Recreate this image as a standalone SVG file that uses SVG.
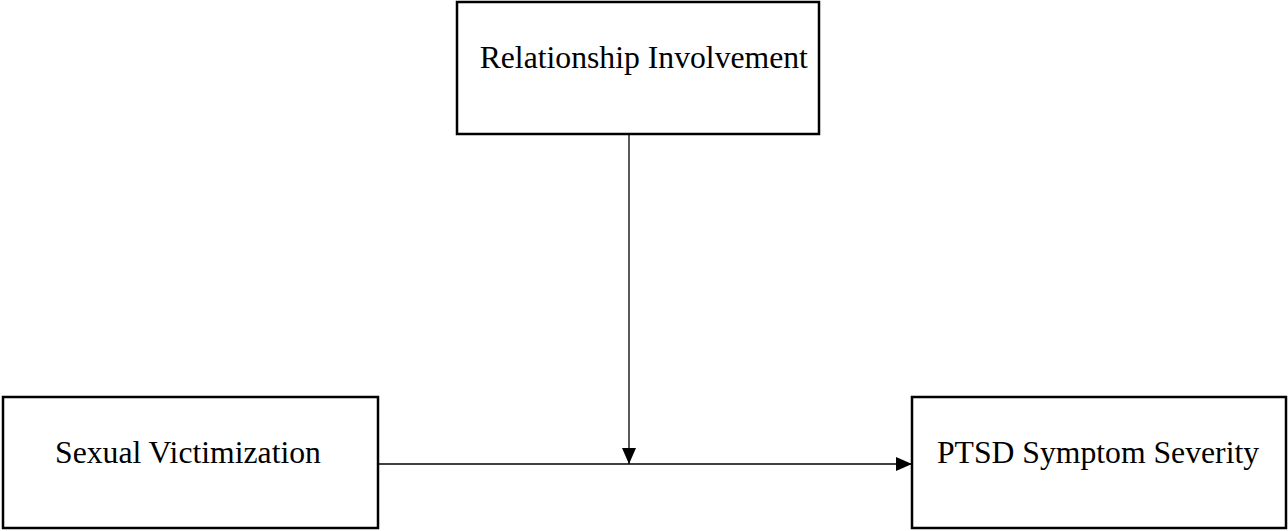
<svg xmlns="http://www.w3.org/2000/svg" width="1288" height="531" viewBox="0 0 1288 531">
<style>
.box{fill:#fff;stroke:#000;stroke-width:2.5}
.lbl{font-family:"Liberation Serif","Times New Roman",serif;font-size:31.7px;fill:#000;text-anchor:middle}
.conn{stroke:#000;stroke-width:1.3;fill:none}
</style>
<defs>
<marker id="arr" viewBox="0 0 16 14" refX="16" refY="7" markerWidth="16" markerHeight="14" markerUnits="userSpaceOnUse" orient="auto">
<path d="M0,0 L16,7 L0,14 Z" fill="#000"/>
</marker>
</defs>
<rect width="1288" height="531" fill="#fff"/>
<g id="connectors">
<line class="conn" x1="378" y1="464" x2="912" y2="464" marker-end="url(#arr)"/>
<line class="conn" x1="629" y1="134" x2="629" y2="464" marker-end="url(#arr)"/>
</g>
<g id="relationship">
<rect class="box" x="457" y="2" width="362" height="132"/>
<text class="lbl" x="643.8" y="68">Relationship Involvement</text>
</g>
<g id="victimization">
<rect class="box" x="3" y="397" width="375" height="131"/>
<text class="lbl" x="188" y="463">Sexual Victimization</text>
</g>
<g id="ptsd">
<rect class="box" x="912" y="397" width="374" height="131"/>
<text class="lbl" x="1098" y="463">PTSD Symptom Severity</text>
</g>
</svg>
